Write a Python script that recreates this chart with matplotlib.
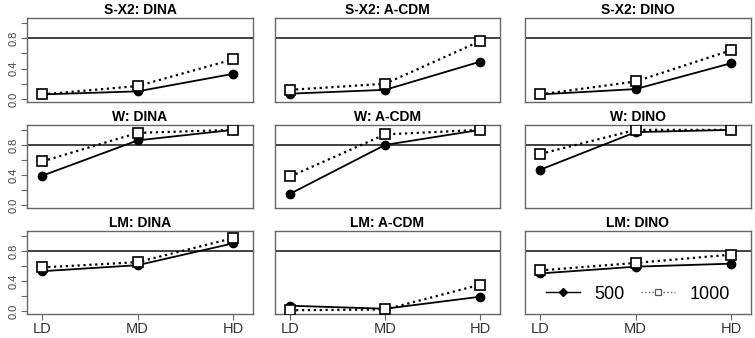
import matplotlib
matplotlib.use("Agg")
import matplotlib.pyplot as plt
from matplotlib.lines import Line2D

plt.rcParams['font.family'] = ['Liberation Sans', 'DejaVu Sans']

levels = ["LD", "MD", "HD"]
stats = ["S-X2", "W", "LM"]
models = ["DINA", "A-CDM", "DINO"]

sx2_dina_500 = [0.06, 0.10, 0.33]
sx2_dina_1000 = [0.06, 0.17, 0.52]
sx2_acdm_500 = [0.07, 0.12, 0.49]
sx2_acdm_1000 = [0.12, 0.20, 0.76]
sx2_dino_500 = [0.06, 0.13, 0.47]
sx2_dino_1000 = [0.06, 0.23, 0.64]

w_dina_500 = [0.39, 0.86, 1.00]
w_dina_1000 = [0.58, 0.96, 1.00]
w_acdm_500 = [0.15, 0.80, 1.00]
w_acdm_1000 = [0.38, 0.94, 1.00]
w_dino_500 = [0.47, 0.97, 1.00]
w_dino_1000 = [0.68, 1.00, 1.00]

lm_dina_500 = [0.53, 0.61, 0.90]
lm_dina_1000 = [0.58, 0.65, 0.97]
lm_acdm_500 = [0.07, 0.03, 0.19]
lm_acdm_1000 = [0.01, 0.02, 0.35]
lm_dino_500 = [0.50, 0.59, 0.63]
lm_dino_1000 = [0.54, 0.64, 0.75]

data = {
    ("S-X2", "DINA"): (sx2_dina_500, sx2_dina_1000),
    ("S-X2", "A-CDM"): (sx2_acdm_500, sx2_acdm_1000),
    ("S-X2", "DINO"): (sx2_dino_500, sx2_dino_1000),
    ("W", "DINA"): (w_dina_500, w_dina_1000),
    ("W", "A-CDM"): (w_acdm_500, w_acdm_1000),
    ("W", "DINO"): (w_dino_500, w_dino_1000),
    ("LM", "DINA"): (lm_dina_500, lm_dina_1000),
    ("LM", "A-CDM"): (lm_acdm_500, lm_acdm_1000),
    ("LM", "DINO"): (lm_dino_500, lm_dino_1000),
}
ref_line = 0.8
yticks = [0.0, 0.2, 0.4, 0.6, 0.8, 1.0]
ytick_labels = ["0.0", "", "0.4", "", "0.8", ""]
series_labels = ["500", "1000"]

W, H = 755, 338
fig = plt.figure(figsize=(W / 100, H / 100), dpi=100)
fig.patch.set_facecolor("white")

col_x = [(27, 253), (275, 500), (525, 751)]
row_y = [(18, 102), (125, 208), (231, 314)]
frame_col = "#666666"

xs = [1, 2, 3]
for r, st in enumerate(stats):
    for c, md in enumerate(models):
        x0, x1 = col_x[c]
        y0, y1 = row_y[r]
        ax = fig.add_axes([x0 / W, 1 - y1 / H, (x1 - x0) / W, (y1 - y0) / H])
        v500, v1000 = data[(st, md)]
        ax.axhline(ref_line, color="#333333", lw=1.3, zorder=1)
        ax.plot(xs, v500, "-", color="black", lw=1.3, marker="o",
                ms=6, mfc="black", mec="black", zorder=3)
        ax.plot(xs, v1000, ":", color="black", lw=1.6, marker="s",
                ms=6.5, mfc="white", mec="black", mew=1.2, zorder=4)
        ax.set_xlim(0.84, 3.21)
        ax.set_ylim(-0.04, 1.065)
        for s in ax.spines.values():
            s.set_color(frame_col)
            s.set_linewidth(1.0)
        ax.set_title(f"{st}: {md}", fontsize=10, fontweight="bold", pad=3)
        if c == 0:
            ax.set_yticks(yticks)
            ax.set_yticklabels(ytick_labels, rotation=90, va="center",
                               fontsize=8, color="#444444")
            ax.tick_params(axis="y", length=4, color=frame_col, pad=2)
        else:
            ax.set_yticks([])
        if r == 2:
            ax.set_xticks(xs)
            ax.set_xticklabels(levels, fontsize=10.5, color="#333333")
            ax.tick_params(axis="x", length=4, color=frame_col, pad=2)
        else:
            ax.set_xticks([])
        if r == 2 and c == 2:
            h1 = Line2D([], [], color="black", lw=1.0, ls="-", marker="D",
                        ms=4.5, mfc="black", mec="black")
            h2 = Line2D([], [], color="#555555", lw=1.0, ls=":", marker="s",
                        ms=5, mfc="white", mec="#555555", mew=0.9)
            ax.legend(handles=[h1, h2], labels=series_labels, loc="center",
                      ncol=2, frameon=False, fontsize=13, handlelength=1.9,
                      columnspacing=0.9, handletextpad=0.8,
                      bbox_to_anchor=(0.5, 0.24), borderpad=0, borderaxespad=0)

fig.savefig("out.png", dpi=100, facecolor="white")
